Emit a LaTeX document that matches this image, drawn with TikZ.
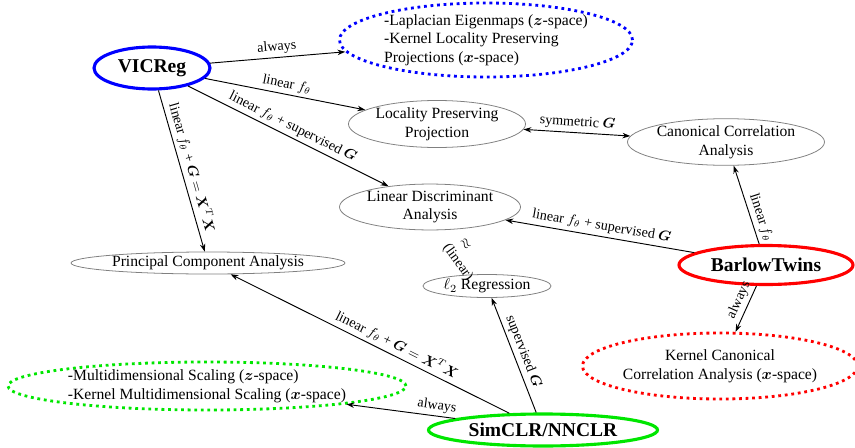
\documentclass[tikz,border=0pt]{standalone}
\usepackage{amsmath}
\usepackage{fontspec}
\setmainfont{Liberation Serif}
\usetikzlibrary{shapes.geometric,arrows.meta}
\definecolor{vblue}{RGB}{0,0,255}
\definecolor{vred}{RGB}{255,0,0}
\definecolor{vgreen}{RGB}{0,230,0}
\begin{document}
\begin{tikzpicture}[x=0.64pt,y=-0.64pt,
  >={Stealth[length=5pt,width=3.5pt]},
  every node/.style={font=\fontsize{10}{12}\selectfont},
  esize/.style 2 args={minimum width={#1*0.64pt},minimum height={#2*0.64pt}},
  plain/.style={ellipse,draw=gray,line width=0.5pt,inner sep=0pt,align=center},
  mainbox/.style={ellipse,line width=2pt,inner sep=0pt,font=\fontsize{12.5}{15}\selectfont\bfseries},
  dotty/.style={ellipse,line width=1.8pt,dash pattern=on 1.8pt off 2.4pt,inner sep=0pt},
  conn/.style={line width=0.6pt},
  lab/.style={font=\fontsize{9}{11}\selectfont,sloped,above,inner sep=2pt}
]
\useasboundingbox (0,0) rectangle (855,448);

\node[mainbox,draw=vblue,esize={116}{42}] (vic) at (152,68) {VICReg};
\node[mainbox,draw=vred,esize={174}{39}] (bt) at (766,265) {BarlowTwins};
\node[mainbox,draw=vgreen,esize={229}{32}] (sim) at (543,430) {SimCLR/NNCLR};

\node[dotty,draw=vblue,esize={293}{74},align=left] (blue) at (486,40)
  {-Laplacian Eigenmaps ($\boldsymbol{z}$-space)\\-Kernel Locality Preserving\\Projections ($\boldsymbol{x}$-space)};
\node[dotty,draw=vred,esize={275}{66},align=center] (kcca) at (720,366)
  {Kernel Canonical\\Correlation Analysis ($\boldsymbol{x}$-space)};
\node[dotty,draw=vgreen,esize={398}{48},align=left] (mds) at (207,386)
  {-Multidimensional Scaling ($\boldsymbol{z}$-space)\\-Kernel Multidimensional Scaling ($\boldsymbol{x}$-space)};

\node[plain,esize={177}{47}] (lpp) at (437,124) {Locality Preserving\\Projection};
\node[plain,esize={197}{43}] (cca) at (726,142) {Canonical Correlation\\Analysis};
\node[plain,esize={181}{45}] (lda) at (430,207) {Linear Discriminant\\Analysis};
\node[plain,esize={274}{22}] (pca) at (208,263) {Principal Component Analysis};
\node[plain,esize={128}{23}] (l2) at (487,286) {$\ell_2$ Regression};

\draw[conn,->] (vic) -- node[lab]{always} (blue);
\draw[conn,->] (vic) -- node[lab]{linear $f_\theta$} (lpp);
\draw[conn,->] (vic) -- node[lab]{linear $f_\theta$ + supervised $\boldsymbol{G}$} (lda);
\draw[conn,->] (vic) -- node[lab]{linear $f_\theta$ + $\boldsymbol{G}=\boldsymbol{X}^T\boldsymbol{X}$} (pca);
\draw[conn,<->] (lpp) -- node[lab]{symmetric $\boldsymbol{G}$} (cca);
\draw[conn,<-] (cca) -- node[lab,pos=0.7]{linear $f_\theta$} (bt);
\draw[conn,<-] (lda) -- node[lab]{linear $f_\theta$ + supervised $\boldsymbol{G}$} (bt);
\draw[conn,<-] (kcca) -- node[lab,pos=0.6]{always} (bt);
\draw[conn,<-] (pca) -- node[lab,pos=0.58]{linear $f_\theta$ + $\boldsymbol{G}=\boldsymbol{X}^T\boldsymbol{X}$} (sim);
\draw[conn,<-] (l2) -- node[lab]{supervised $\boldsymbol{G}$} (sim);
\draw[conn,<-] (mds) -- node[lab,pos=0.82]{always} (sim);
\path (lda) -- node[lab,pos=0.42]{$\approx$} node[lab,below,pos=0.6]{(linear)} (l2);
\end{tikzpicture}
\end{document}
